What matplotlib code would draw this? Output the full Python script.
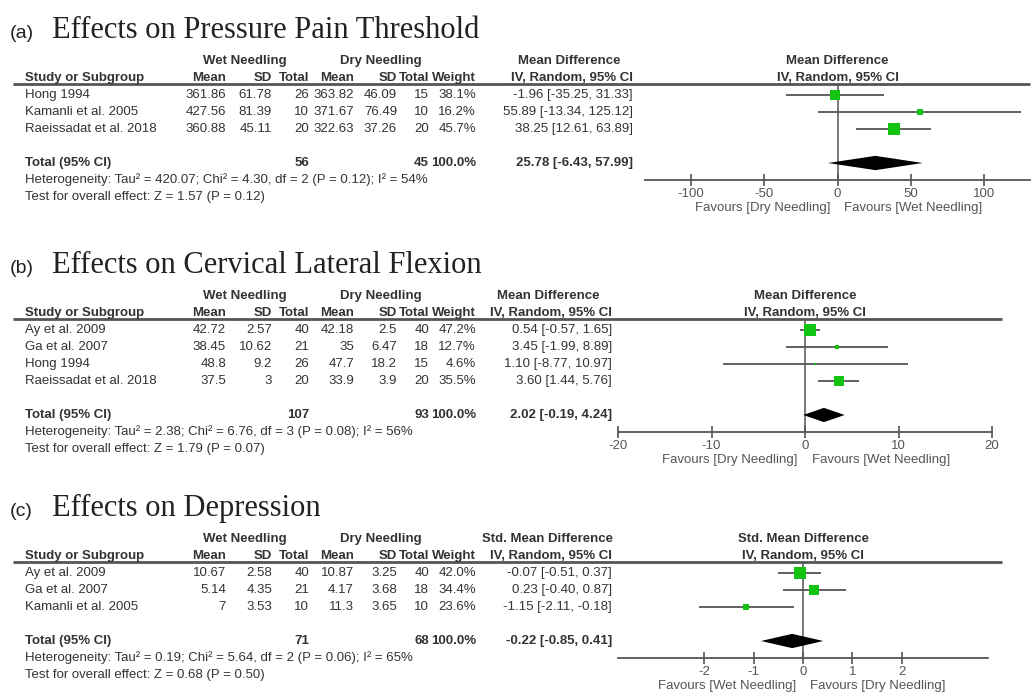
import matplotlib
matplotlib.use("Agg")
import matplotlib.pyplot as plt
from matplotlib.transforms import blended_transform_factory

# ---- data -------------------------------------------------------------
# (a) pressure pain threshold
a_studies = ["Hong 1994", "Kamanli et al. 2005", "Raeissadat et al. 2018"]
a_wet_mean = [361.86, 427.56, 360.88]
a_wet_sd = [61.78, 81.39, 45.11]
a_wet_n = [26, 10, 20]
a_dry_mean = [363.82, 371.67, 322.63]
a_dry_sd = [46.09, 76.49, 37.26]
a_dry_n = [15, 10, 20]
a_weight = [38.1, 16.2, 45.7]
a_est = [-1.96, 55.89, 38.25]
a_lo = [-35.25, -13.34, 12.61]
a_hi = [31.33, 125.12, 63.89]
a_total_n = [56, 45]
a_pooled = [25.78, -6.43, 57.99]
a_het = [420.07, 4.30, 2, 0.12, 54]
a_overall = [1.57, 0.12]
a_ticks = [-100, -50, 0, 50, 100]

# (b) cervical lateral flexion
b_studies = ["Ay et al. 2009", "Ga et al. 2007", "Hong 1994", "Raeissadat et al. 2018"]
b_wet_mean = [42.72, 38.45, 48.8, 37.5]
b_wet_sd = [2.57, 10.62, 9.2, 3]
b_wet_n = [40, 21, 26, 20]
b_dry_mean = [42.18, 35, 47.7, 33.9]
b_dry_sd = [2.5, 6.47, 18.2, 3.9]
b_dry_n = [40, 18, 15, 20]
b_weight = [47.2, 12.7, 4.6, 35.5]
b_est = [0.54, 3.45, 1.10, 3.60]
b_lo = [-0.57, -1.99, -8.77, 1.44]
b_hi = [1.65, 8.89, 10.97, 5.76]
b_total_n = [107, 93]
b_pooled = [2.02, -0.19, 4.24]
b_het = [2.38, 6.76, 3, 0.08, 56]
b_overall = [1.79, 0.07]
b_ticks = [-20, -10, 0, 10, 20]

# (c) depression
c_studies = ["Ay et al. 2009", "Ga et al. 2007", "Kamanli et al. 2005"]
c_wet_mean = [10.67, 5.14, 7]
c_wet_sd = [2.58, 4.35, 3.53]
c_wet_n = [40, 21, 10]
c_dry_mean = [10.87, 4.17, 11.3]
c_dry_sd = [3.25, 3.68, 3.65]
c_dry_n = [40, 18, 10]
c_weight = [42.0, 34.4, 23.6]
c_est = [-0.07, 0.23, -1.15]
c_lo = [-0.51, -0.40, -2.11]
c_hi = [0.37, 0.87, -0.18]
c_total_n = [71, 68]
c_pooled = [-0.22, -0.85, 0.41]
c_het = [0.19, 5.64, 2, 0.06, 65]
c_overall = [0.68, 0.50]
c_ticks = [-2, -1, 0, 1, 2]

# ---- layout ------------------------------------------------------------
W, H = 1033, 694
DY = 17.0          # px between table rows
GREEN = "#12c412"
GREY = "#555555"
TXT = "#333333"
FS = 9.5
SANS = "Liberation Sans"
SERIF = "Liberation Serif"

fig = plt.figure(figsize=(W / 100, H / 100), dpi=100)
fig.patch.set_facecolor("white")


def fx(px):
    return px / W


# right edges of the table columns (px); the CI column edge is per panel
STUDY_X = 25
COLS = [226, 272, 309, 354, 397, 429, 476]
WET_C, DRY_C = 245, 381


def panel(letter, title, y0, studies, wm, ws, wn, dm, ds, dn, weight, est, lo, hi,
          total_n, pooled, het, overall, measure, ticks, lim, plot_px, line_end,
          ci_right, fav_left, fav_right):
    n = len(studies)
    line_row = -0.65
    axis_row = n + 2
    x0, x1 = plot_px
    top = y0 + line_row * DY
    bot = y0 + axis_row * DY
    ax = fig.add_axes([fx(x0), 1 - bot / H, fx(x1 - x0), (bot - top) / H])
    ax.set_xlim(-lim, lim)
    ax.set_ylim(axis_row, line_row)
    ax.patch.set_alpha(0)
    for s in ["top", "left", "right"]:
        ax.spines[s].set_visible(False)
    ax.spines["bottom"].set_color(GREY)
    ax.spines["bottom"].set_linewidth(1.3)
    ax.set_yticks([])
    ax.set_xticks(ticks)
    ax.set_xticklabels([str(t) for t in ticks], family=SANS)
    ax.tick_params(axis="x", direction="inout", length=9, width=1.2, color=GREY,
                   labelsize=FS, labelcolor=GREY, pad=1)

    tr = blended_transform_factory(fig.transFigure, ax.transData)
    cols = COLS + [ci_right]

    def t(px, row, s, ha="right", bold=False):
        ax.text(fx(px), row, s, transform=tr, ha=ha, va="center", fontsize=FS,
                family=SANS, color=TXT, fontweight="bold" if bold else "normal",
                clip_on=False)

    # title
    ax.text(fx(10), -3.35, "(" + letter + ")", transform=tr, ha="left", va="baseline",
            fontsize=14, family=SANS, color="#222222", clip_on=False)
    ax.text(fx(52), -3.35, title, transform=tr, ha="left", va="baseline",
            fontsize=22, family=SERIF, color="#222222", clip_on=False)

    # headers
    t(WET_C, -2, "Wet Needling", ha="center", bold=True)
    t(DRY_C, -2, "Dry Needling", ha="center", bold=True)
    t(ci_right - 64, -2, measure, ha="center", bold=True)
    t(STUDY_X, -1, "Study or Subgroup", ha="left", bold=True)
    for px, s in zip(cols, ["Mean", "SD", "Total", "Mean", "SD", "Total", "Weight",
                            "IV, Random, 95% CI"]):
        t(px, -1, s, bold=True)
    ax.text(0, -2, measure, ha="center", va="center", fontsize=FS, family=SANS,
            color=TXT, fontweight="bold", clip_on=False)
    ax.text(0, -1, "IV, Random, 95% CI", ha="center", va="center", fontsize=FS,
            family=SANS, color=TXT, fontweight="bold", clip_on=False)
    ax.plot([fx(13), fx(line_end)], [line_row, line_row], transform=tr, color=GREY,
            lw=2, clip_on=False, solid_capstyle="butt")

    # study rows
    for i in range(n):
        vals = ["%g" % wm[i], "%g" % ws[i], "%d" % wn[i], "%g" % dm[i], "%g" % ds[i],
                "%d" % dn[i], "%.1f%%" % weight[i],
                "%.2f [%.2f, %.2f]" % (est[i], lo[i], hi[i])]
        t(STUDY_X, i, studies[i], ha="left")
        for px, s in zip(cols, vals):
            t(px, i, s)
        ax.hlines(i, lo[i], hi[i], color=GREY, lw=1.3, zorder=2)
        side = (0.23 * weight[i] + 1.5) * 0.72
        ax.plot(est[i], i, "s", ms=side, color=GREEN, mec=GREEN, mew=0, zorder=3)

    # total row
    tot = n + 1
    t(STUDY_X, tot, "Total (95% CI)", ha="left", bold=True)
    t(cols[2], tot, "%d" % total_n[0], bold=True)
    t(cols[5], tot, "%d" % total_n[1], bold=True)
    t(cols[6], tot, "100.0%", bold=True)
    t(cols[7], tot, "%.2f [%.2f, %.2f]" % tuple(pooled), bold=True)
    d = 0.42
    ax.fill([pooled[1], pooled[0], pooled[2], pooled[0]],
            [tot, tot - d, tot, tot + d], color="black", lw=0, zorder=3)

    t(STUDY_X, n + 2, "Heterogeneity: Tau\u00b2 = %.2f; Chi\u00b2 = %.2f, df = %d "
      "(P = %.2f); I\u00b2 = %d%%" % tuple(het), ha="left")
    t(STUDY_X, n + 3, "Test for overall effect: Z = %.2f (P = %.2f)" % tuple(overall),
      ha="left")

    ax.axvline(0, color=GREY, lw=1.1, zorder=1)

    ax.annotate(fav_left, xy=(0, axis_row), xytext=(-7, -28), textcoords="offset pixels",
                ha="right", va="center", fontsize=FS, family=SANS, color=GREY)
    ax.annotate(fav_right, xy=(0, axis_row), xytext=(7, -28), textcoords="offset pixels",
                ha="left", va="center", fontsize=FS, family=SANS, color=GREY)


panel("a", "Effects on Pressure Pain Threshold", 95, a_studies, a_wet_mean, a_wet_sd,
      a_wet_n, a_dry_mean, a_dry_sd, a_dry_n, a_weight, a_est, a_lo, a_hi, a_total_n,
      a_pooled, a_het, a_overall, "Mean Difference", a_ticks, 131, (645, 1030), 1030,
      633, "Favours [Dry Needling]", "Favours [Wet Needling]")

panel("b", "Effects on Cervical Lateral Flexion", 330, b_studies, b_wet_mean, b_wet_sd,
      b_wet_n, b_dry_mean, b_dry_sd, b_dry_n, b_weight, b_est, b_lo, b_hi, b_total_n,
      b_pooled, b_het, b_overall, "Mean Difference", b_ticks, 20, (618, 992), 1002,
      612, "Favours [Dry Needling]", "Favours [Wet Needling]")

panel("c", "Effects on Depression", 573, c_studies, c_wet_mean, c_wet_sd,
      c_wet_n, c_dry_mean, c_dry_sd, c_dry_n, c_weight, c_est, c_lo, c_hi, c_total_n,
      c_pooled, c_het, c_overall, "Std. Mean Difference", c_ticks, 3.75, (618, 988), 1002,
      612, "Favours [Wet Needling]", "Favours [Dry Needling]")

fig.savefig("out.png", dpi=100, facecolor="white")
